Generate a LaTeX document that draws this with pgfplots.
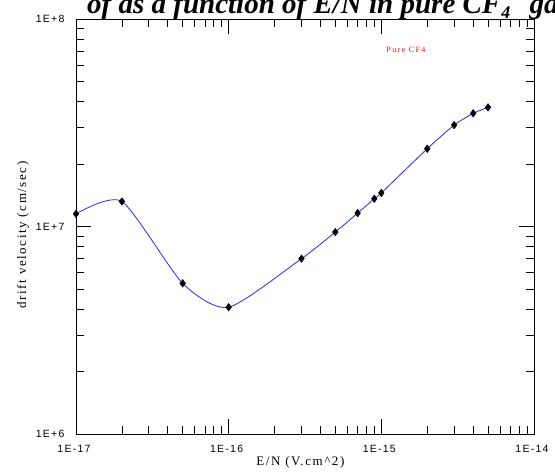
\documentclass[border=0pt]{standalone}
\usepackage{fontspec}
\setmainfont{Liberation Serif}
\newfontfamily\tickfont[LetterSpace=12]{Liberation Sans}
\newfontfamily\labelfont[LetterSpace=12]{Liberation Serif}
\newfontfamily\notefont[LetterSpace=18]{Liberation Serif}
\newfontfamily\titlefont{Liberation Serif}
\usepackage{pgfplots}
\usepackage{pgfplotstable}
\pgfplotsset{compat=1.18}
\pgfplotstableread{
x y
1e-17 1.15e7
2e-17 1.32e7
5e-17 5.32e6
1e-16 4.08e6
3e-16 7.0e6
5e-16 9.4e6
7e-16 1.16e7
9e-16 1.36e7
1e-15 1.45e7
2e-15 2.37e7
3e-15 3.08e7
4e-15 3.51e7
5e-15 3.75e7
}\cfdata
\begin{document}
\begin{tikzpicture}
\begin{loglogaxis}[
  at={(0,0)}, anchor=south west,
  scale only axis, width=458pt, height=415pt,
  xmin=1e-17, xmax=1e-14, ymin=1e6, ymax=1e8,
  axis line style={line width=0.8pt},
  tick style={line width=0.8pt, black},
  tick align=inside, xtick pos=both, ytick pos=both,
  major tick length=15pt, minor tick length=8pt,
  xtick={1e-17,1e-16,1e-15,1e-14},
  xticklabels={1E-17,1E-16,1E-15,1E-14},
  ytick={1e6,1e7,1e8},
  yticklabels={1E+6,1E+7,1E+8},
  minor xtick={2e-17,3e-17,4e-17,5e-17,6e-17,7e-17,8e-17,9e-17,
    2e-16,3e-16,4e-16,5e-16,6e-16,7e-16,8e-16,9e-16,
    2e-15,3e-15,4e-15,5e-15,6e-15,7e-15,8e-15,9e-15},
  minor ytick={2e6,3e6,4e6,5e6,6e6,7e6,8e6,9e6,2e7,3e7,4e7,5e7,6e7,7e7,8e7,9e7},
  tick label style={font=\tickfont\fontsize{10.5}{10.5}\selectfont, text=black},
  xticklabel style={anchor=center, yshift=-15pt, xshift=-2pt},
  yticklabel style={anchor=east, xshift=-8pt},
  xlabel={E/N (V.cm\textasciicircum2)},
  ylabel={drift velocity (cm/sec)},
  label style={font=\labelfont\fontsize{13}{13}\selectfont},
  xlabel style={at={(axis description cs:0.49,0)}, anchor=center, yshift=-28pt},
  ylabel style={at={(axis description cs:-0.116,0.48)}, anchor=center},
  clip=false,
]
\addplot[color={rgb,255:red,40;green,40;blue,255}, line width=0.8pt, smooth, tension=0.4, no markers] table[x=x,y=y] {\cfdata};
\addplot[only marks, mark=diamond*, mark size=3.8pt, black] table[x=x,y=y] {\cfdata};
\node[text=red, font=\notefont\fontsize{8}{8}\selectfont] at (rel axis cs:0.7205,0.9253) {Pure CF4};
\end{loglogaxis}
\node[anchor=base west, font=\titlefont\bfseries\itshape\fontsize{29}{29}\selectfont, inner sep=0pt] at (11pt,420pt) {of as a function of E/N in pure CF\raisebox{-5pt}{\fontsize{18}{18}\selectfont 4}\hspace{12pt} gas};
\pgfresetboundingbox
\path (-76pt,-39pt) rectangle (479pt,434pt);
\end{tikzpicture}
\end{document}
